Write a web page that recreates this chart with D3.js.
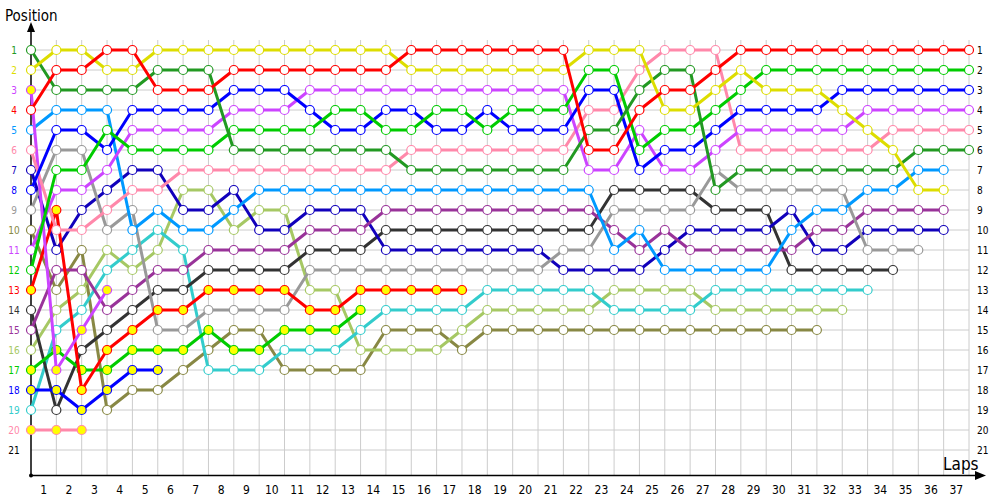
<!doctype html>
<html>
<head>
<meta charset="utf-8">
<script src="https://d3js.org/d3.v7.min.js"></script>
<style>
  body { margin: 0; background: #fff; }
  text { font-family: "DejaVu Sans Condensed", "DejaVu Sans", Verdana, sans-serif; }
</style>
</head>
<body>
<svg width="1000" height="500"></svg>
<script>
// positions per lap, starting with lap 0 (grid)
var red      = [4,2,2,1,1,3,3,3,2,2, 2,2,2,2,2,1,1,1,1,1, 1,1,6,6,4,3,3,2,1,1, 1,1,1,1,1,1,1,1];
var yellow   = [2,1,1,2,2,1,1,1,1,1, 1,1,1,1,1,2,2,2,2,2, 2,2,1,1,1,4,4,3,2,3, 3,3,4,5,6,8,8];
var dkgreen  = [1,3,3,3,3,2,2,2,6,6, 6,6,6,6,6,7,7,7,7,7, 7,7,5,5,3,2,2,8,7,7, 7,7,7,7,7,6,6,6];
var green    = [12,7,7,5,6,6,6,6,5,5, 5,5,4,4,5,5,4,4,5,4, 4,4,2,2,6,5,5,4,3,2, 2,2,2,2,2,2,2,2];
var blue     = [8,5,5,6,4,4,4,4,3,3, 3,4,5,5,4,4,5,5,4,5, 5,5,3,3,7,6,6,5,4,4, 4,4,3,3,3,3,3,3];
var purple   = [11,8,8,7,5,5,5,5,4,4, 4,3,3,3,3,3,3,3,3,3, 3,3,7,7,5,7,7,6,5,5, 5,5,5,4,4,4,4,4];
var pink     = [6,10,10,9,8,8,7,7,7,7, 7,7,7,7,7,6,6,6,6,6, 6,6,4,4,2,1,1,1,6,6, 6,6,6,6,5,5,5,5];
var ltblue   = [5,4,4,4,10,9,10,10,9,8, 8,8,8,8,8,8,8,8,8,8, 8,8,8,11,10,12,12,12,12,12, 10,9,9,8,8,7,7];
var gray     = [9,6,6,10,9,15,15,14,14,14, 14,12,12,12,12,12,12,12,12,12, 12,11,11,9,9,9,9,7,8,8, 8,8,8,11,11,11];
var dkpurple = [15,12,12,14,13,12,12,11,11,11, 11,10,10,10,9,9,9,9,9,9, 9,9,9,10,11,10,11,11,11,11, 11,10,10,9,9,9,9];
var navy     = [7,11,9,8,7,7,9,9,8,10, 10,9,9,9,11,11,11,11,11,11, 11,12,12,12,12,11,10,10,10,10, 9,11,11,10,10,10,10];
var black    = [14,19,16,15,14,13,13,12,12,12, 12,11,11,11,10,10,10,10,10,10, 10,10,10,8,8,8,8,9,9,9, 12,12,12,12,12];
var cyan     = [19,15,14,12,11,10,11,17,17,17, 16,16,16,15,14,14,14,14,13,13, 13,13,13,14,14,14,14,13,13,13, 13,13,13,13];
var ltgreen  = [16,14,13,11,12,11,8,8,10,9, 9,13,13,16,16,16,16,15,14,14, 14,14,14,13,13,13,13,14,14,14, 14,14,14];
var olive    = [10,13,11,19,18,18,17,16,15,15, 17,17,17,17,15,15,15,16,15,15, 15,15,15,15,15,15,15,15,15,15, 15,15];
var redY     = [13,9,18,16,15,14,14,13,13,13, 13,14,14,13,13,13,13,13];
var greenY   = [17,16,17,17,16,16,16,15,16,16, 15,15,15,14];
var blueY    = [18,18,19,18,17,17];
var pinkY    = [20,20,20];
var purpleY  = [3,17,15,13];

var lapLabels = d3.range(1, 38);
var posLabels = d3.range(1, 22);

var drivers = [
  {c: "#888844", f: "#fff", p: olive},
  {c: "#a6c864", f: "#fff", p: ltgreen},
  {c: "#33cccc", f: "#fff", p: cyan},
  {c: "#333333", f: "#fff", p: black},
  {c: "#1100bb", f: "#fff", p: navy},
  {c: "#993399", f: "#fff", p: dkpurple},
  {c: "#999999", f: "#fff", p: gray},
  {c: "#0099ff", f: "#fff", p: ltblue},
  {c: "#ff88aa", f: "#ffff00", p: pinkY},
  {c: "#0000ff", f: "#ffff00", p: blueY},
  {c: "#00cc00", f: "#ffff00", p: greenY},
  {c: "#ff0000", f: "#ffff00", p: redY},
  {c: "#cc44ff", f: "#ffff00", p: purpleY},
  {c: "#ff88aa", f: "#fff", p: pink},
  {c: "#cc44ff", f: "#fff", p: purple},
  {c: "#0000ff", f: "#fff", p: blue},
  {c: "#00cc00", f: "#fff", p: green},
  {c: "#229922", f: "#fff", p: dkgreen},
  {c: "#dddd00", f: "#fff", p: yellow},
  {c: "#ff0000", f: "#fff", p: red}
];

var svg = d3.select("svg");
var x = d3.scaleLinear().domain([0, 37]).range([31, 969]);
var y = d3.scaleLinear().domain([0, 21]).range([30, 450]);

// grid
svg.append("g").selectAll("line").data(lapLabels).enter().append("line")
  .attr("x1", function(d){ return x(d); }).attr("x2", function(d){ return x(d); })
  .attr("y1", 40).attr("y2", 475)
  .attr("stroke", "#cccccc").attr("stroke-width", 1);
svg.append("g").selectAll("line").data(posLabels).enter().append("line")
  .attr("x1", x(0)).attr("x2", x(37))
  .attr("y1", function(d){ return y(d); }).attr("y2", function(d){ return y(d); })
  .attr("stroke", "#cccccc").attr("stroke-width", 1);

// axes
svg.append("line").attr("x1", x(0)).attr("x2", 980).attr("y1", 475.5).attr("y2", 475.5)
  .attr("stroke", "#000").attr("stroke-width", 1.5);
svg.append("path").attr("d", "M986,475.5 L975,471 L975,480 Z").attr("fill", "#000");
svg.append("line").attr("x1", x(0)).attr("x2", x(0)).attr("y1", 475.5).attr("y2", 28)
  .attr("stroke", "#000").attr("stroke-width", 1.5);
svg.append("path").attr("d", "M31,22 L27,32 L35,32 Z").attr("fill", "#000");
svg.append("circle").attr("cx", x(0)).attr("cy", 475.5).attr("r", 2).attr("fill", "#000");

svg.append("text").attr("x", 5).attr("y", 21).attr("font-size", 15).text("Position");
svg.append("text").attr("x", 943).attr("y", 470).attr("font-size", 17).text("Laps");

svg.append("g").selectAll("text").data(lapLabels).enter().append("text")
  .attr("x", function(d){ return (x(d - 1) + x(d)) / 2; })
  .attr("y", 494).attr("text-anchor", "middle").attr("font-size", 12)
  .text(function(d){ return d; });

svg.append("g").selectAll("text").data(posLabels).enter().append("text")
  .attr("x", 977).attr("y", function(d){ return y(d) + 4; })
  .attr("font-size", 10).text(function(d){ return d; });

var startColor = {};
drivers.forEach(function(d){ startColor[d.p[0]] = d.c; });
svg.append("g").selectAll("text").data(posLabels).enter().append("text")
  .attr("x", 14).attr("y", function(d){ return y(d) + 4; })
  .attr("text-anchor", "middle").attr("font-size", 10)
  .attr("fill", function(d){ return startColor[d] || "#000"; })
  .text(function(d){ return d; });

var line = d3.line()
  .x(function(d, i){ return x(i); })
  .y(function(d){ return y(d); });

var g = svg.append("g");
drivers.forEach(function(d){
  var s = g.append("g");
  s.append("path").attr("d", line(d.p)).attr("fill", "none")
    .attr("stroke", d.c).attr("stroke-width", 3).attr("stroke-linejoin", "round");
  s.selectAll("circle").data(d.p).enter().append("circle")
    .attr("cx", function(v, i){ return x(i); })
    .attr("cy", function(v){ return y(v); })
    .attr("r", 4.5)
    .attr("fill", d.f).attr("stroke", d.c).attr("stroke-width", 1.2);
});
</script>
</body>
</html>
